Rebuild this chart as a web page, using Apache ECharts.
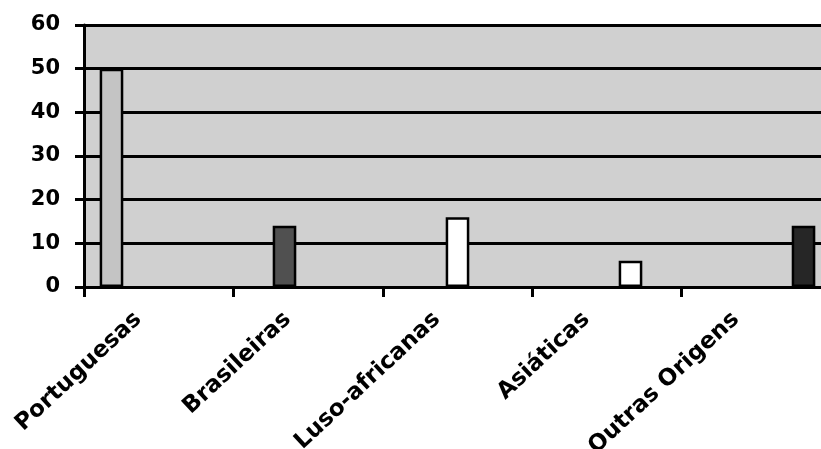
<!DOCTYPE html>
<html>
<head>
<meta charset="utf-8">
<script src="https://cdn.jsdelivr.net/npm/echarts@6/dist/echarts.min.js"></script>
<style>
html,body{margin:0;padding:0;background:#fff;overflow:hidden;width:821px;height:449px;}
#chart{width:850px;height:449px;}
</style>
</head>
<body>
<div id="chart"></div>
<script>
const categories = ['Portuguesas', 'Brasileiras', 'Luso-africanas', 'Asiáticas', 'Outras Origens'];
const values = [50, 14, 16, 6, 14];
const barColors = ['#c4c4c4', '#505050', '#ffffff', '#ffffff', '#262626'];
const yTicks = [0, 10, 20, 30, 40, 50, 60];

const chart = echarts.init(document.getElementById('chart'), null, {renderer: 'canvas'});

const series = categories.map((c, i) => ({
  name: c,
  type: 'bar',
  barGap: '0%',
  barCategoryGap: '21%',
  data: categories.map((_, j) => (j === i ? values[i] : '-')),
  itemStyle: {color: barColors[i], borderColor: '#000', borderWidth: 2.5},
  silent: true
}));

chart.setOption({
  animation: false,
  grid: {left: 84, top: 25, width: 747, height: 262, show: true, backgroundColor: '#d0d0d0', borderWidth: 0,
         containLabel: false, outerBoundsMode: 'none'},
  xAxis: {
    type: 'category',
    data: categories,
    axisLine: {show: true, lineStyle: {color: '#000', width: 3}},
    axisTick: {show: true, interval: 0, length: 10, lineStyle: {color: '#000', width: 3}},
    axisLabel: {
      interval: 0, rotate: 43, margin: 10,
      color: '#000', fontFamily: 'DejaVu Sans', fontWeight: 'bold', fontSize: 23,
      padding: [0, 28, 0, 0]
    }
  },
  yAxis: {
    type: 'value', min: yTicks[0], max: yTicks[yTicks.length - 1], interval: 10,
    axisLine: {show: true, lineStyle: {color: '#000', width: 3}},
    axisTick: {show: true, length: 9, lineStyle: {color: '#000', width: 3}},
    axisLabel: {margin: 24, color: '#000', fontFamily: 'DejaVu Sans', fontWeight: 'bold', fontSize: 21},
    splitLine: {show: true, lineStyle: {color: '#000', width: 3}}
  },
  series: series
});
</script>
</body>
</html>
